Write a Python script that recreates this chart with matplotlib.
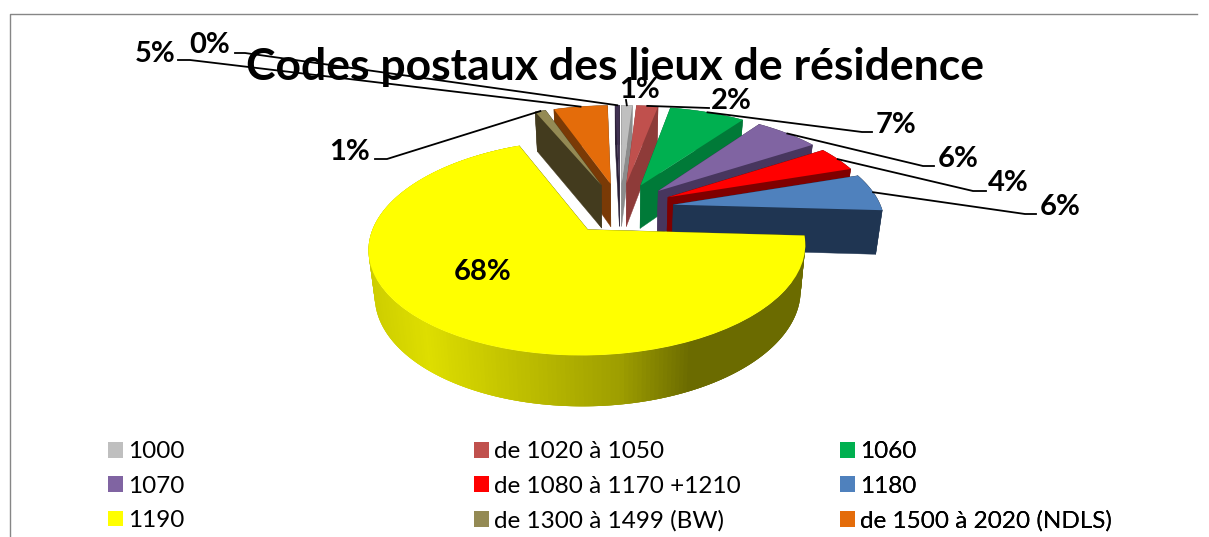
import numpy as np
import matplotlib
matplotlib.use("Agg")
import matplotlib.pyplot as plt
from matplotlib.transforms import Transform

# ============================
# DATA
# ============================
title = "Codes postaux des lieux de résidence"
codes = ["1000", "de 1020 à 1050", "1060", "1070", "de 1080 à 1170 +1210", "1180",
         "1190", "de 1300 à 1499 (BW)", "de 1500 à 2020 (NDLS)", ""]
values = [1, 2, 7, 6, 4, 6, 68, 1, 5, 0.4]
colors = ["#BFBFBF", "#C0504D", "#00B050", "#8064A2", "#FF0000", "#4F81BD",
          "#FFFF00", "#948A54", "#E46C0A", "#403152"]
wall_colors = ["#8C8C8C", "#8E3B39", "#007A38", "#47365E", "#7F0000", "#1F3552",
               "#6B6B00", "#433B1E", "#7A3A06", "#2A2038"]

# label position and leader elbow, in picture pixels
label_xy = [(640, 90), (731, 101), (896, 125), (958, 159), (1008, 183), (1060, 207),
            (483, 272), (350, 152), (155, 54), (210, 45)]
elbows = [[(626, 100)], [(709, 108)], [(862, 132), (872, 132)], [(923, 166), (934, 166)],
          [(973, 191), (986, 191)], [(1025, 214), (1036, 214)], None,
          [(387, 159), (375, 159)], [(190, 60), (178, 60)], [(245, 53), (235, 53)]]

# ============================
# PROJECTION OF THE PIE PLANE
# ============================
CX, CY, RX, RY, K = 620, 208, 208, 98, 0.16
DEPTH = 44


def project(u, v, z=0.0):
    s = 1 / (1 + K * np.asarray(v))
    shrink = 1 - 0.025 * z
    x = CX + RX * np.asarray(u) * s * shrink
    y = CY - RY * np.asarray(v) * s * shrink + DEPTH * z * s
    return x, y


class Tilt(Transform):
    input_dims = 2
    output_dims = 2
    is_separable = False

    def transform_non_affine(self, values):
        x, y = project(values[:, 0], values[:, 1])
        return np.column_stack([x, y])


# ============================
# FIGURE
# ============================
plt.rcParams["font.family"] = ["Lato", "DejaVu Sans"]
fig = plt.figure(figsize=(12.09, 5.37), dpi=100)
ax = fig.add_axes([0, 0, 1, 1])

wedges, _ = ax.pie(values, colors=colors, startangle=90, counterclock=False,
                   explode=[0.26] * len(values), wedgeprops={"linewidth": 0})
ax.set_aspect("auto")
ax.set_xlim(0, 1209)
ax.set_ylim(537, 0)
ax.set_axis_off()

tilt = Tilt() + ax.transData
depth_order = sorted(range(len(wedges)), key=lambda i: -wedges[i].center[1])

for rank, i in enumerate(depth_order):
    w = wedges[i]
    w.set_transform(tilt)
    w.set_zorder(10 + rank * 5 + 3)
    cx, cy = w.center
    z0 = 10 + rank * 5
    theta = np.radians(np.linspace(w.theta1, w.theta2, 241))
    u = cx + w.r * np.cos(theta)
    v = cy + w.r * np.sin(theta)

    # cut faces
    for t in (theta[0], theta[-1]):
        ue, ve = cx + w.r * np.cos(t), cy + w.r * np.sin(t)
        xa, ya = project([cx, ue], [cy, ve], 0)
        xb, yb = project([ue, cx], [ve, cy], 1)
        ax.fill(np.r_[xa, xb], np.r_[ya, yb], color=wall_colors[i], lw=0.3, zorder=z0)

    # outer wall, the big slice gets a shaded one
    xt, yt = project(u, v, 0)
    xl, yl = project(u, v, 1)
    if codes[i] == "1190":
        for j in range(len(theta) - 1):
            k = min(j + 3, len(theta) - 1)  # overlap the steps so no seams show
            xm = (xt[j] + xt[j + 1]) / 2
            shade = np.interp(xm, [365, 425, 620, 690], [0.80, 0.87, 0.62, 0.42])
            ax.fill([xt[j], xt[k], xl[k], xl[j]], [yt[j], yt[k], yl[k], yl[j]],
                    color=(shade, shade, 0), lw=0, zorder=z0 + 1)
    else:
        ax.fill(np.r_[xt, xl[::-1]], np.r_[yt, yl[::-1]], color=wall_colors[i], lw=0.3, zorder=z0 + 1)

# ============================
# LABELS AND LEADERS
# ============================
for i, w in enumerate(wedges):
    lx, ly = label_xy[i]
    ax.text(lx, ly, f"{values[i]:.0f}%", fontsize=21, fontweight="bold", ha="center", va="center", zorder=200)
    if elbows[i] is None:
        continue
    mid = np.radians((w.theta1 + w.theta2) / 2)
    xs, ys = project(w.center[0] + np.cos(mid), w.center[1] + np.sin(mid))
    pts = [(float(xs), float(ys))] + elbows[i]
    ax.plot(*zip(*pts), color="black", lw=1.3, zorder=150)

ax.text(615, 67, title, fontsize=32, fontweight="bold", ha="center", va="center", zorder=200)

# frame of the chart, cut by the picture
ax.plot([10, 10, 1197], [537, 14, 14], color="#868686", lw=1, zorder=1)

# ============================
# LEGEND (row by row, one legend per column)
# ============================
col_x = [101, 467, 833]
for c in range(3):
    idx = [c, c + 3, c + 6]
    leg = ax.legend([wedges[i] for i in idx], [codes[i] for i in idx],
                    loc="upper left", bbox_to_anchor=(col_x[c], 434), bbox_transform=ax.transData,
                    frameon=False, fontsize=17.5, handlelength=0.62, handleheight=0.62, handletextpad=0.18,
                    labelspacing=0.55, borderpad=0.3, borderaxespad=0)
    leg.set_zorder(200)
    ax.add_artist(leg)

fig.savefig("out.png", dpi=100)
